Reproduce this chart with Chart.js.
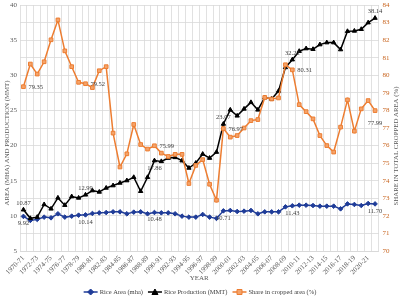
<!DOCTYPE html>
<html>
<head>
<meta charset="utf-8">
<script src="https://cdn.jsdelivr.net/npm/chart.js@4.4.0/dist/chart.umd.min.js"></script>
<style>
  html, body { margin: 0; padding: 0; background: #fff; }
  #wrap { width: 400px; height: 297px; }
</style>
</head>
<body>
<div id="wrap"><canvas id="chart" width="400" height="297"></canvas></div>
<script>
const years = [
    "1970-71", "1971-72", "1972-73", "1973-74", "1974-75", "1975-76", "1976-77", "1977-78",
    "1978-79", "1979-80", "1980-81", "1981-82", "1982-83", "1983-84", "1984-85", "1985-86",
    "1986-87", "1987-88", "1988-89", "1989-90", "1990-91", "1991-92", "1992-93", "1993-94",
    "1994-95", "1995-96", "1996-97", "1997-98", "1998-99", "1999-00", "2000-01", "2001-02",
    "2002-03", "2003-04", "2004-05", "2005-06", "2006-07", "2007-08", "2008-09", "2009-10",
    "2010-11", "2011-12", "2012-13", "2013-14", "2014-15", "2015-16", "2016-17", "2017-18",
    "2018-19", "2019-20", "2020-21", "2021-22",
];

// Rice area (mha), left axis
const riceArea = [
    9.92, 9.35, 9.5, 9.82, 9.72, 10.29, 9.82, 9.96, 10.1, 10.14,
    10.34, 10.43, 10.47, 10.57, 10.57, 10.29, 10.53, 10.57, 10.29, 10.48,
    10.43, 10.43, 10.29, 9.96, 9.82, 9.82, 10.2, 9.82, 9.64, 10.71,
    10.77, 10.62, 10.67, 10.77, 10.29, 10.57, 10.57, 10.57, 11.28, 11.43,
    11.52, 11.52, 11.47, 11.38, 11.38, 11.38, 11.0, 11.7, 11.62, 11.47,
    11.76, 11.7,
];

// Rice production (MMT), left axis
const riceProduction = [
    10.87, 9.65, 9.82, 11.62, 11.0, 12.56, 11.52, 12.75, 12.55, 12.99,
    13.6, 13.4, 13.97, 14.31, 14.68, 15.02, 15.49, 13.5, 15.49, 17.86,
    17.75, 18.22, 18.32, 17.85, 16.81, 17.51, 18.79, 18.22, 19.07, 23.07,
    25.08, 24.23, 25.22, 26.15, 25.08, 26.82, 26.63, 27.76, 31.11, 32.22,
    33.43, 33.8, 33.71, 34.37, 34.65, 34.65, 33.66, 36.26, 36.31, 36.55,
    37.49, 38.14,
];

// Share in total cropped area (%), right axis
const croppedShare = [
    79.35, 80.64, 80.07, 80.77, 82.02, 83.15, 81.39, 80.49, 79.6, 79.52,
    79.3, 80.26, 80.49, 76.71, 74.78, 75.53, 77.2, 76.06, 75.8, 75.99,
    75.57, 75.38, 75.5, 75.5, 73.84, 74.87, 75.2, 73.8, 72.89, 76.97,
    76.48, 76.57, 77.0, 77.42, 77.48, 78.74, 78.65, 78.71, 80.6, 80.31,
    78.33, 77.93, 77.52, 76.57, 76.0, 75.63, 77.05, 78.6, 76.82, 78.09,
    78.56, 77.99,
];

// years that carry a value label
const labelledYears = [0, 9, 19, 29, 39, 51];

const FONT = "'Liberation Serif', 'DejaVu Serif', serif";
const GRID_COLOR = "#d9d9d9";
const TEXT_COLOR = "#595959";
const AREA_COLOR = "#1f3c98";
const PROD_COLOR = "#000000";
const SHARE_COLOR = "#ed7d31";
const SHARE_FILL = "#f4a36a";

const markerShapes = ["diamond", "triangle", "square"];

function drawMarker(ctx, shape, x, y) {
    ctx.beginPath();
    if (shape === "diamond") {
        ctx.moveTo(x, y - 3); ctx.lineTo(x + 3, y); ctx.lineTo(x, y + 3); ctx.lineTo(x - 3, y);
    } else if (shape === "triangle") {
        ctx.moveTo(x, y - 3); ctx.lineTo(x + 3, y + 2.5); ctx.lineTo(x - 3, y + 2.5);
    } else {
        ctx.rect(x - 2.5, y - 2.5, 5, 5);
    }
    ctx.closePath();
    ctx.fill();
    ctx.lineWidth = 1;
    ctx.stroke();
}

// legend drawn under the x axis title, centred on the canvas
const bottomLegend = {
    id: "bottomLegend",
    afterDraw(chart) {
        const ctx = chart.ctx;
        const y = 292;
        const iconW = 14;
        const gapIcon = 2;
        const gapItem = 5;
        ctx.save();
        ctx.font = "6.5px " + FONT;
        ctx.textBaseline = "middle";
        const items = chart.data.datasets.map((ds) => ({
            ds,
            w: iconW + gapIcon + ctx.measureText(ds.label).width,
        }));
        const total = items.reduce((s, it) => s + it.w, 0) + gapItem * (items.length - 1);
        let x = (chart.width - total) / 2;
        items.forEach((it, k) => {
            ctx.strokeStyle = it.ds.borderColor;
            ctx.fillStyle = it.ds.backgroundColor;
            ctx.lineWidth = 1.5;
            ctx.beginPath();
            ctx.moveTo(x, y);
            ctx.lineTo(x + iconW, y);
            ctx.stroke();
            drawMarker(ctx, markerShapes[k], x + iconW / 2, y);
            ctx.fillStyle = "#404040";
            ctx.textAlign = "left";
            ctx.fillText(it.ds.label, x + iconW + gapIcon, y + 0.5);
            x += it.w + gapItem;
        });
        ctx.restore();
    },
};

// where each series puts its value labels, relative to the point
function labelPlacement(datasetIndex, i) {
    if (datasetIndex === 0) {
        return { dx: 0, dy: 7, align: "center" };
    }
    if (datasetIndex === 1) {
        return i === 19 ? { dx: 0, dy: 8, align: "center" } : { dx: 0, dy: -6.5, align: "center" };
    }
    return i === 51 ? { dx: 0, dy: 13, align: "center" } : { dx: 5, dy: 0.5, align: "left" };
}

const pointLabels = {
    id: "pointLabels",
    afterDatasetsDraw(chart) {
        const ctx = chart.ctx;
        ctx.save();
        ctx.font = "6.5px " + FONT;
        ctx.fillStyle = "#404040";
        ctx.textBaseline = "middle";
        chart.data.datasets.forEach((ds, di) => {
            const meta = chart.getDatasetMeta(di);
            labelledYears.forEach((i) => {
                const pt = meta.data[i];
                const p = labelPlacement(di, i);
                ctx.textAlign = p.align;
                ctx.fillText(ds.data[i].toFixed(2), pt.x + p.dx, pt.y + p.dy);
            });
        });
        ctx.restore();
    },
};

// rotated y axis titles, drawn by hand to sit where the original has them
const axisTitles = {
    id: "axisTitles",
    afterDraw(chart) {
        const ctx = chart.ctx;
        const titles = [
            ["AREA (MHA) AND PRODUCTION (MMT)", 7.5, 143],
            ["SHARE IN TOTAL CROPPED AREA (%)", 396.5, 146],
        ];
        titles.forEach(([text, x, y]) => {
            ctx.save();
            ctx.font = "6.8px " + FONT;
            ctx.fillStyle = TEXT_COLOR;
            ctx.textAlign = "center";
            ctx.textBaseline = "middle";
            ctx.translate(x, y);
            ctx.rotate(-Math.PI / 2);
            ctx.fillText(text, 0, 0);
            ctx.restore();
        });
    },
};

function noVerticalPadding(scale) {
    scale.paddingTop = 0;
    scale.paddingBottom = 0;
}

new Chart(document.getElementById("chart"), {
    type: "line",
    data: {
        labels: years,
        datasets: [
            {
                label: "Rice Area (mha)",
                data: riceArea,
                yAxisID: "y",
                borderColor: AREA_COLOR,
                backgroundColor: AREA_COLOR,
                borderWidth: 1.5,
                pointStyle: "rectRot",
                pointRadius: 2.3,
                pointBorderWidth: 1,
                order: 2,
            },
            {
                label: "Rice Production (MMT)",
                data: riceProduction,
                yAxisID: "y",
                borderColor: PROD_COLOR,
                backgroundColor: PROD_COLOR,
                borderWidth: 1.5,
                pointStyle: "triangle",
                pointRadius: 2.5,
                pointBorderWidth: 1,
                order: 1,
            },
            {
                label: "Share in cropped area (%)",
                data: croppedShare,
                yAxisID: "y1",
                borderColor: SHARE_COLOR,
                backgroundColor: SHARE_FILL,
                borderWidth: 1.5,
                pointStyle: "rect",
                pointRadius: 2.6,
                pointBorderWidth: 1,
                order: 0,
            },
        ],
    },
    options: {
        responsive: false,
        animation: false,
        devicePixelRatio: 1,
        layout: { padding: { top: 4, left: 0, right: 0, bottom: 15 } },
        elements: { line: { tension: 0 } },
        plugins: {
            tooltip: { enabled: false },
            legend: { display: false },
        },
        scales: {
            x: {
                offset: true,
                grid: { offset: true, color: GRID_COLOR, lineWidth: 0.8, drawTicks: false },
                border: { color: GRID_COLOR },
                ticks: {
                    autoSkip: false,
                    maxRotation: 45,
                    minRotation: 45,
                    padding: 3,
                    color: TEXT_COLOR,
                    font: { size: 7, family: FONT },
                    callback(value, index) {
                        return index % 2 === 0 ? years[index] : "";
                    },
                },
                title: {
                    display: true,
                    text: "YEAR",
                    color: TEXT_COLOR,
                    font: { size: 7, family: FONT },
                    padding: { top: 1, bottom: 0 },
                },
                afterFit(scale) {
                    scale.height = 31;
                },
            },
            y: {
                position: "left",
                min: 5,
                max: 40,
                ticks: {
                    stepSize: 5,
                    padding: 3,
                    color: TEXT_COLOR,
                    font: { size: 7, family: FONT },
                },
                grid: { drawOnChartArea: false, drawTicks: false },
                border: { display: false },
                afterFit(scale) {
                    scale.width = 20;
                    noVerticalPadding(scale);
                },
            },
            y1: {
                position: "right",
                min: 70,
                max: 84,
                ticks: {
                    stepSize: 1,
                    padding: 4,
                    color: "#c8641e",
                    font: { size: 7, family: FONT },
                },
                grid: { color: GRID_COLOR, lineWidth: 0.8, drawTicks: false },
                border: { display: false },
                afterFit(scale) {
                    scale.width = 21.5;
                    noVerticalPadding(scale);
                },
            },
        },
    },
    plugins: [pointLabels, axisTitles, bottomLegend],
});
</script>
</body>
</html>
